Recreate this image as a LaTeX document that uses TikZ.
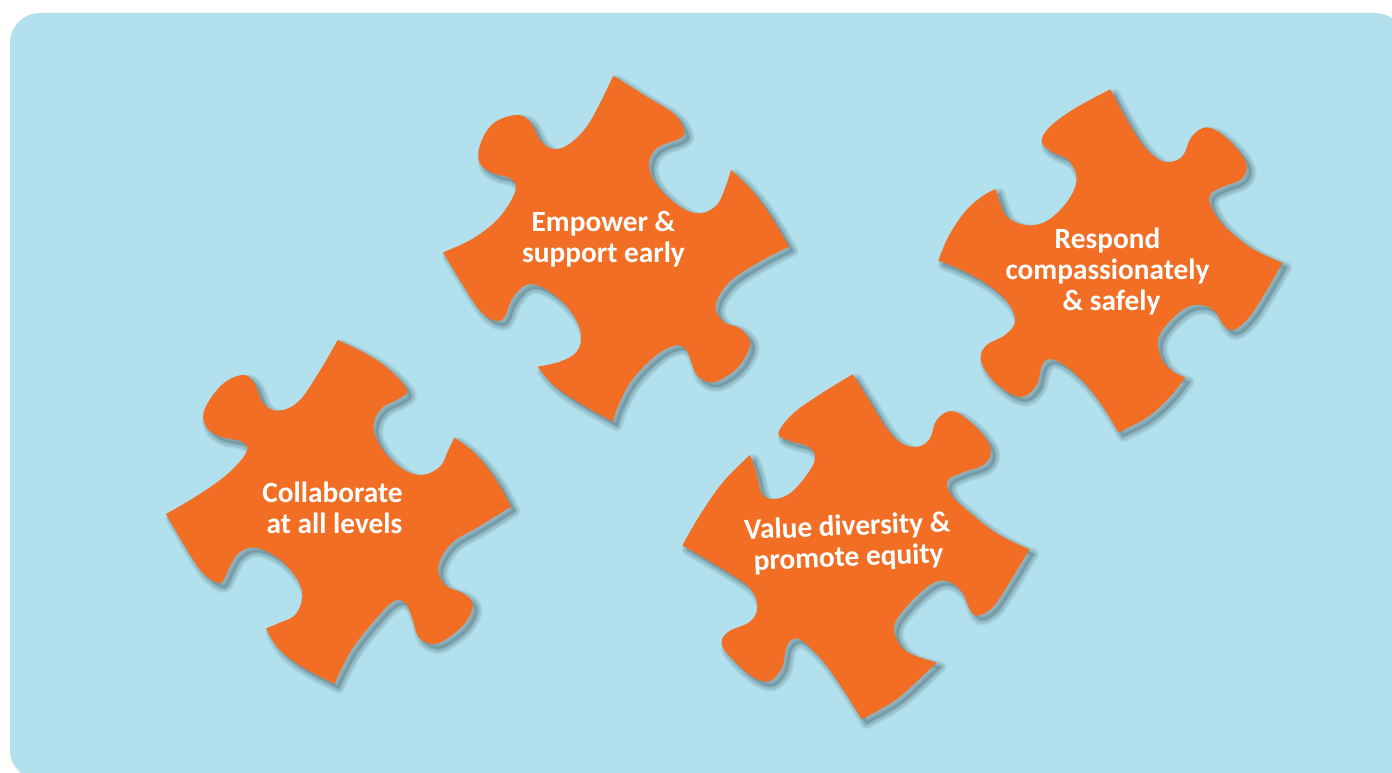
\documentclass[tikz,border=0pt]{standalone}
\usepackage{fontspec}
\setmainfont{Carlito}
\definecolor{panelblue}{HTML}{B2E1ED}
\definecolor{pieceorange}{HTML}{F36E25}
\definecolor{pieceshadow}{HTML}{46626C}
\newcommand\drawpiece[3]{%
  \foreach \wd in {11,9,7,5,3,1}{
    \begin{scope}[shift={(#1+4.5,#2+4.5)},x=.25pt,y=-.25pt]
      \path[fill=pieceshadow,draw=pieceshadow,line width=\wd*.75pt,fill opacity=.05,draw opacity=.08,line join=round] #3;
    \end{scope}
  }
  \begin{scope}[shift={(#1,#2)},x=.25pt,y=-.25pt]
    \path[fill=pieceorange] #3;
  \end{scope}
}
\tikzset{piecelabel/.style={text=white,font=\fontsize{22}{23.25}\selectfont\bfseries,align=center,inner sep=0pt},
  pseg/.style={smooth,tension=.62}}
\begin{document}
\begin{tikzpicture}[x=.75pt,y=-.75pt]
\useasboundingbox (0,0) rectangle (1392,773);
\fill[white] (0,0) rectangle (1392,773);
\begin{scope}
\clip (0,0) rectangle (1392,773);
\fill[panelblue,rounded corners=22.5pt] (10,13) rectangle (1405,780);
\end{scope}
% Empower
\drawpiece{430}{65}{plot[pseg] coordinates {(550,32)(650,95)(730,145)(762,195)(750,220)(680,250)(657,300)(680,360)(750,425)(810,445)(860,420)(885,370)(903,315)} -- plot[pseg] coordinates {(903,315)(960,370)(1020,450)(1077,545)} -- plot[pseg] coordinates {(1077,545)(990,590)(900,650)(857,720)(880,770)(930,790)(960,835)(930,900)(880,940)(840,952)(800,930)(780,880)(765,850)(735,842)(680,870)(610,940)(570,1010)(548,1070)} -- plot[pseg] coordinates {(548,1070)(450,1015)(370,960)(323,905)} -- plot[pseg] coordinates {(323,905)(390,890)(440,860)(453,810)(430,750)(380,695)(320,660)(280,665)(245,705)(225,755)(205,768)(170,755)(130,710)(39,562)} -- plot[pseg] coordinates {(39,562)(130,520)(210,455)(257,375)(240,340)(190,325)(150,295)(150,240)(190,175)(260,150)(300,170)(330,225)(370,252)(420,235)(480,170)(550,32)} -- cycle}
% Respond
\drawpiece{925}{80}{plot[pseg] coordinates {(556,28)(600,110)(650,190)(700,238)(740,245)(775,225)(800,170)(845,142)(900,170)(950,225)(965,265)(945,300)(890,322)(855,345)(860,385)(900,440)(980,505)(1072,548)} -- plot[pseg] coordinates {(1072,548)(1020,640)(970,715)(925,750)(895,735)(870,695)(830,675)(780,685)(720,740)(698,790)(715,845)(745,875)(780,892)} -- plot[pseg] coordinates {(780,892)(740,945)(670,1010)(580,1057)} -- plot[pseg] coordinates {(580,1057)(530,975)(470,900)(410,850)(370,838)(350,860)(335,915)(295,950)(245,935)(190,885)(167,835)(185,795)(240,765)(270,725)(250,670)(190,615)(110,570)(40,542)} -- plot[pseg] coordinates {(40,542)(70,470)(120,395)(170,350)(212,327)} -- plot[pseg] coordinates {(212,327)(225,370)(250,415)(310,436)(370,420)(430,360)(455,295)(430,240)(380,215)(350,185)(375,140)(450,85)(556,28)} -- cycle}
% Value
\drawpiece{670}{365}{plot[pseg] coordinates {(548,28)(600,110)(650,190)(695,235)(745,245)(780,220)(800,165)(845,138)(900,170)(950,225)(962,265)(940,300)(880,322)(835,345)(840,385)(890,435)(980,505)(1078,553)} -- plot[pseg] coordinates {(1078,553)(1020,650)(970,725)(925,752)(900,735)(875,680)(830,648)(780,660)(710,725)(672,785)(690,840)(730,870)(800,892)} -- plot[pseg] coordinates {(800,892)(740,950)(670,1010)(575,1063)} -- plot[pseg] coordinates {(575,1063)(520,975)(460,890)(400,830)(370,822)(350,845)(335,910)(295,950)(240,930)(180,875)(155,835)(175,800)(240,770)(262,725)(240,670)(170,620)(37,541)} -- plot[pseg] coordinates {(37,541)(90,450)(160,350)(240,270)} -- plot[pseg] coordinates {(240,270)(258,320)(275,385)(310,402)(360,385)(410,330)(435,280)(415,245)(360,228)(325,205)(370,145)(450,88)(548,28)} -- cycle}
% Collaborate
\drawpiece{155}{330}{plot[pseg] coordinates {(548,30)(640,75)(710,125)(755,180)(735,205)(680,235)(655,290)(680,355)(740,415)(800,435)(855,410)(880,360)(898,323)} -- plot[pseg] coordinates {(898,323)(960,370)(1020,445)(1068,530)} -- plot[pseg] coordinates {(1068,530)(980,585)(890,640)(850,710)(870,765)(925,790)(953,825)(930,880)(870,930)(830,942)(790,920)(770,860)(750,818)(715,815)(660,870)(590,960)(538,1062)} -- plot[pseg] coordinates {(538,1062)(440,1010)(370,955)(333,895)} -- plot[pseg] coordinates {(333,895)(370,880)(420,855)(442,800)(425,745)(370,685)(300,653)(250,670)(220,720)(205,752)(185,758)(140,725)(90,650)(33,552)} -- plot[pseg] coordinates {(33,552)(130,495)(220,430)(275,365)(260,335)(190,318)(150,285)(150,235)(200,165)(260,135)(295,155)(325,220)(370,242)(430,215)(490,130)(548,30)} -- cycle}
\node[piecelabel] (empower) at (603.5,239.5) {Empower \&\\support early};
\node[piecelabel] (respond) at (1107.5,271.5) {Respond\\compassionately\\\hspace*{6pt}\& safely};
\node[piecelabel] (collab) at (332.5,507.5) {Collaborate\\\hspace*{3pt}at all levels};
\node[piecelabel,rotate=2.2] (value) at (848,543) {Value diversity \&\\promote equity};
\end{tikzpicture}
\end{document}
